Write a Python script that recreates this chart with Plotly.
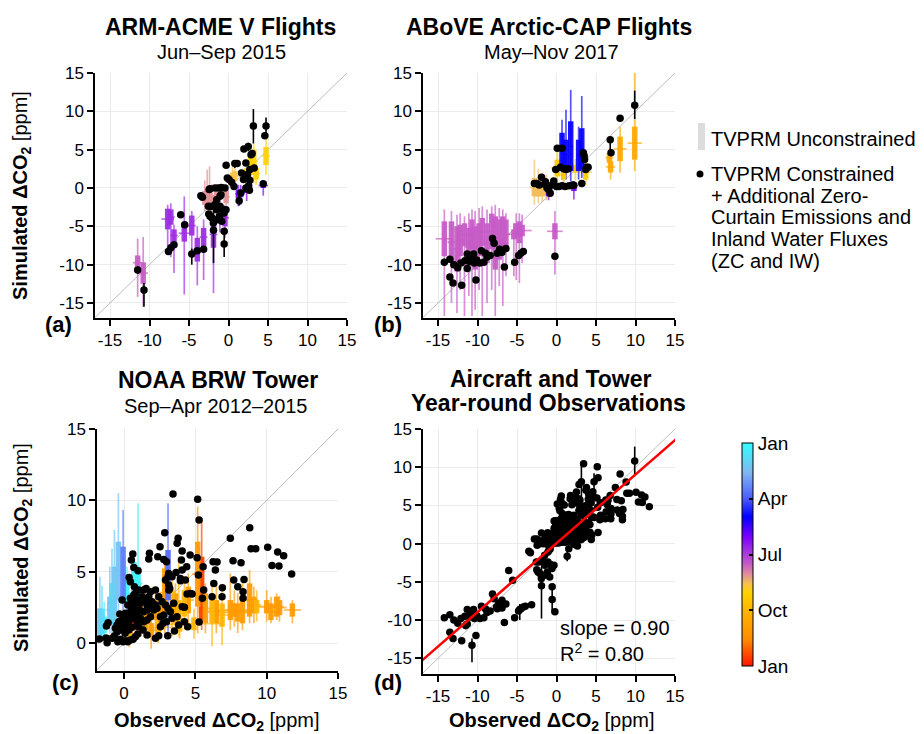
import plotly.graph_objects as go
from plotly.colors import sample_colorscale, unlabel_rgb

# ---------------- DATA ----------------
# Panel (a) ARM-ACME V : constrained (black) points
a_obs = [-11.5, -10.7, -7.6, -7.3, -6.9, -6.05, -5.55, -4.65, -3.95, -3.15, -3.5, -3.3, -2.45, -2.5, -2.25,
         -1.9, -2.35, -1.7, -1.3, -0.9, -0.45, -2.09, -1.92, -1.5, -1.16, -0.86, -0.57, -1.5, -1.71, -1.08,
         -0.78, -0.32, -2.55, -2.34, -1.08, -1.5, -0.95, -0.55, -0.55, -0.3, -0.15, 0.06, 0.4, 0.7, 0.8,
         1.1, 1.35, 1.55, 1.65, 1.9, 1.95, 2.2, 2.2, 2.4, 2.5, 2.65, 2.7, 2.85, 3.0, 3.15, 3.25, 4.4, 4.6,
         4.75, 2.3, 2.55, 2.7]
a_con = [-10.7, -13.3, -8.3, -7.8, -7.4, -3.5, -4.8, -8.6, -8.2, -8.0, -1.0, -1.2, -0.2, -3.4, -2.4,
         -5.5, -0.1, 0.0, 0.0, 0.05, 0.0, -3.9, -4.57, -4.13, -3.7, -4.35, -3.26, -2.83, -2.17, -2.39,
         -2.74, -2.83, -2.39, -3.7, -1.09, -1.52, -0.87, -5.65, -7.3, 2.95, 1.3, 1.1, 0.74, 0.2, 3.2,
         3.2, -1.65, -0.65, 1.95, 1.1, 5.1, 3.25, 0.0, 1.75, 5.4, -0.3, 2.4, 4.35, 4.5, 8.1, 2.6, 0.55, 6.8,
         8.1, -0.1, 0.3, 1.0]
a_err_x = [-11.5, -10.7, -4.65, -1.9, -0.55, 1.35, 3.15, 4.75, 2.5, 0.8]
a_err_lo = [-11.2, -15.5, -10.0, -9.8, -9.0, -2.3, 5.8, 6.9, 4.8, 2.6]
a_err_hi = [-10.2, -12.4, -7.9, -3.0, -5.7, -1.0, 10.3, 9.2, 5.9, 3.6]
# Panel (a) unconstrained bars
a_unc_x = [-11.5, -10.8, -7.7, -7.3, -6.9, -5.6, -4.65, -3.95, -3.15, -3.0, -2.7, -2.4, -2.1, -1.9, -1.5,
           -1.1, -0.45, -0.3, 0.5, 0.8, 1.25, 1.55, 2.3, 2.3, 2.8, 3.2, 3.5, 4.4, 4.75]
a_box_lo = [-10.7, -12.5, -5.4, -4.8, -7.0, -7.0, -6.2, -9.6, -7.6, -2.2, -2.0, -2.5, -2.8, -7.8, -2.6,
            -4.6, -5.0, -2.0, 0.9, 0.9, -1.3, -1.2, -0.65, 0.9, 1.7, 2.0, 1.1, 0.0, 3.0]
a_box_hi = [-8.8, -9.7, -2.7, -2.8, -5.4, -4.8, -3.6, -6.5, -5.2, -0.4, -0.2, -0.3, -0.9, -4.3, -0.5,
            -2.8, -2.8, -0.3, 2.0, 2.2, -0.2, -0.3, 0.0, 2.6, 4.1, 5.0, 2.6, 0.65, 5.35]
a_whi_lo = [-14.2, -15.5, -7.6, -9.0, -11.1, -13.9, -9.1, -12.7, -12.0, -3.0, -2.8, -3.5, -3.5, -13.7, -3.2,
            -5.8, -6.5, -2.6, 0.3, 0.3, -2.4, -2.2, -1.7, 0.2, 0.4, 0.6, 0.4, -1.0, 1.7]
a_whi_hi = [-6.6, -6.4, -2.2, -2.0, -4.8, -1.1, -3.0, -5.0, -4.1, 1.0, 2.4, 2.8, 0.5, -2.8, 0.3,
            -1.5, -2.3, 0.5, 2.8, 2.8, 0.4, 0.4, 0.6, 3.2, 5.2, 5.7, 3.2, 1.0, 6.5]
a_obs_err = [0.6, 0.6, 0.8, 0.5, 0.5, 0.7, 0.5, 0.5, 0.5, 0.5, 0.6, 0.5, 0.5, 0.5, 0.5,
             0.5, 0.5, 0.5, 0.5, 0.5, 0.4, 0.5, 0.4, 0.5, 0.5, 0.5, 0.5, 0.6, 0.5]
a_month = [6.5, 6.5, 5.7, 5.7, 5.7, 5.7, 5.7, 5.7, 5.7, 7.1, 7.1, 7.1, 7.1, 5.7, 7.1,
           5.7, 5.7, 7.1, 7.6, 7.6, 5.0, 5.0, 5.0, 8.0, 8.0, 8.0, 8.0, 5.0, 8.0]

# Panel (b) ABoVE : constrained (black) points
b_obs = [-14.2, -13.5, -13.5, -13.1, -13.0, -12.5, -12.1, -12.0, -11.6, -11.3, -11.3, -11.0, -10.9, -10.6,
         -10.5, -10.4, -10.2, -10.1, -9.7, -9.5, -9.2, -9.0, -8.8, -8.4, -8.1, -7.9, -7.5, -7.2, -6.9, -6.6,
         -6.4, -5.3, -4.8, -4.5, -4.2, -0.2,
         -2.8, -2.5, -2.2, -1.9, -1.5, -1.4, -1.2, -1.0, -0.8, -0.55, -0.35, -0.1, 0.1, 0.7, 0.5, 0.9,
         1.2, 1.5, 0.0, 0.3, 0.7, 1.1, 1.6, 2.0, 2.2, 3.2, 3.4, 3.5, 3.55, 3.7, 3.8, 4.0, 6.8, 6.9, 8.05, 9.9]
b_con = [-9.7, -11.6, -9.3, -12.4, -10.0, -10.4, -9.8, -12.7, -9.5, -8.6, -10.5, -9.6, -9.3, -9.1,
         -8.6, -9.8, -12.0, -9.4, -9.8, -8.2, -9.7, -8.5, -9.0, -8.8, -6.6, -7.2, -8.5, -8.0, -8.4, -10.3,
         -7.9, -9.7, -8.8, -8.5, -8.3, -8.9,
         0.6, 0.6, 0.4, 1.4, 0.5, 0.8, 0.0, -0.2, -0.7, 0.4, 0.9, 2.4, 5.2, 5.2, 2.7, 2.5,
         2.4, 2.5, 0.2, 0.2, 0.3, 0.2, 0.3, 0.4, 0.35, 0.6, 4.6, 4.2, 3.7, 2.4, 2.7, 2.7, 6.3, 4.6, 9.1, 10.8]
b_err_x = [9.9, 6.8, 3.4]
b_err_lo = [9.0, 4.6, 3.2]
b_err_hi = [12.7, 6.3, 5.0]
# Panel (b) unconstrained bars
b_unc_x = [-14.2, -13.3, -12.6, -12.2, -11.65, -11.1, -10.7, -10.3, -9.8, -9.4, -8.8, -8.2, -7.75, -7.25,
           -6.8, -6.4, -5.4, -5.1, -4.7, -4.35, -0.2,
           -2.8, -2.3, -1.8, -1.3, -1.0, 2.2, 0.1, 0.9, 2.4, 3.7, 0.7, 1.2, 1.8, 2.8, 3.2,
           6.85, 6.7, 8.05, 9.9]
b_box_lo = [-8.9, -9.8, -10.9, -8.9, -7.6, -10.2, -8.0, -10.65, -8.9, -7.6, -9.8, -8.0, -10.65, -9.35,
            -7.6, -8.0, -6.7, -6.5, -7.2, -6.3, -6.7,
            -1.1, -1.1, -1.1, -0.9, -1.1, -0.4, 1.5, 1.1, 2.0, 1.1, 2.8, 2.4, 2.2, 2.2, 2.4,
            2.0, 3.3, 3.5, 3.7]
b_box_hi = [-4.35, -4.35, -5.0, -4.8, -4.6, -5.2, -4.1, -5.0, -4.6, -3.9, -4.6, -3.35, -3.7, -4.1,
            -3.7, -4.1, -5.4, -4.6, -4.35, -4.8, -4.6,
            1.3, 1.0, 0.8, 0.6, 0.2, 0.4, 3.7, 2.4, 3.0, 3.0, 7.2, 6.3, 8.7, 6.3, 7.8,
            3.5, 4.6, 6.7, 8.0]
b_whi_lo = [-16.7, -15.0, -16.3, -13.3, -16.7, -14.1, -16.7, -15.9, -13.3, -16.7, -15.0, -13.3, -16.7, -12.8,
            -15.4, -11.5, -11.5, -12.0, -12.4, -9.8, -11.3,
            -2.2, -2.0, -1.8, -1.6, -1.6, -1.5, 0.2, 0.3, 1.0, 0.4, 1.1, 1.1, 0.9, 1.1, 1.3,
            1.1, 2.5, 2.0, 2.2]
b_whi_hi = [-2.8, -3.0, -3.5, -3.3, -3.7, -3.3, -2.8, -3.0, -2.6, -2.4, -2.8, -2.4, -2.2, -2.6,
            -2.8, -3.3, -4.6, -3.3, -3.3, -3.5, -3.0,
            3.7, 2.5, 2.0, 1.7, 0.6, 0.9, 4.8, 3.2, 3.8, 4.1, 8.9, 10.2, 12.8, 8.0, 12.0,
            4.3, 5.0, 8.0, 15.0]
b_obs_err = [1.1, 0.5, 0.5, 0.5, 0.5, 0.5, 0.5, 0.5, 0.5, 0.5, 0.5, 0.5, 0.5, 0.5,
             0.5, 0.5, 0.6, 0.5, 0.5, 1.2, 1.0,
             0.6, 0.5, 0.5, 0.5, 0.4, 0.4, 0.8, 0.5, 0.8, 0.8, 0.3, 0.3, 0.3, 0.3, 0.3,
             0.6, 0.5, 0.8, 0.9]
b_month = [6.5, 6.5, 6.5, 6.5, 6.5, 6.5, 6.5, 6.5, 6.5, 6.5, 6.5, 6.5, 6.5, 6.5,
           6.5, 6.5, 6.5, 6.5, 6.5, 6.5, 6.5,
           7.5, 7.5, 7.5, 7.5, 5.0, 5.0, 8.3, 8.3, 8.3, 8.3, 4.0, 4.0, 4.0, 4.0, 4.0,
           9.5, 9.5, 9.5, 9.5]

# Panel (c) NOAA BRW tower : constrained (black) points
c_obs = [-1.73, -1.24, -1.12, -1.19, -0.84, -0.68, -0.49, -0.37, -0.30, -0.14,
         -0.44, -0.26, -0.07, 0.09, 0.26, 0.44, 0.63, 0.79, 0.96,
         -0.21, -0.02, 0.16, 0.35, 0.54, 0.72, 0.91,
         -0.26, -0.07, 0.12, 0.30, 0.49, 0.68, 0.86, 1.05,
         0.07, 0.33, 0.56, -0.49, -0.61,
         0.35, 0.44, 0.72, 0.68, 0.51, 1.03, 1.38, 1.85, 1.14, 1.61, 2.08, 2.31, 2.55, 2.78,
         1.26, 1.50, 1.73, 1.96, 2.20, 2.43, 2.66, 2.90,
         3.08, 3.36, 3.71, 4.07, 4.23, 4.42, 4.65, 4.77,
         3.83, 4.23, 4.46, 3.53, 3.06, 2.20, 1.61, 1.33, 1.03,
         2.55, 2.73, 2.97, 3.25, 3.48, 3.13, 3.36, 3.13, 2.90, 3.13,
         1.85, 1.61, 1.38, 1.14, 0.91, 1.10, 1.38, 1.61, 1.85,
         0.09, 0.26, 0.44, 0.63, 0.79, 2.20,
         3.95, 4.07, 4.30, 1.54, 5.26, 2.43, -1.26,
         3.43, 5.16, 5.26, 2.85, 2.52, 3.79, 3.72, 1.78, 1.73, 0.61, 0.51, 0.68, 0.98,
         2.36, 2.78, 2.97, 4.07, 4.02, 4.63, 4.39, 5.12, 5.54, 3.95, 3.64, 3.08, 3.20,
         5.21, 5.58, 5.49, 6.24, 6.52, 6.40, 6.29, 6.17, 6.87, 6.89, 7.45, 7.64, 8.20,
         7.69, 7.97, 8.41, 8.34, 8.34, 8.81, 8.90, 9.23, 10.07, 10.77, 10.37, 10.86, 11.19, 11.75]
c_con = [0.28, 1.19, 1.43, 0.02, 0.33, 0.49, 0.79, 1.50, 2.03, 3.01,
         0.09, 0.26, 0.09, 0.16, 0.09, 0.21, 0.26, 0.44, 0.63,
         0.91, 1.14, 1.38, 1.57, 1.73, 1.89, 2.08,
         1.50, 1.73, 1.89, 2.08, 2.27, 2.50, 2.78, 3.01,
         0.68, 0.91, 1.10, 1.26, 1.03,
         4.60, 4.30, 3.95, 3.36, 2.78, 3.71, 3.71, 3.60, 2.78, 2.66, 2.31, 2.43, 1.85, 1.96,
         3.25, 3.01, 3.25, 2.90, 2.66, 3.25, 2.90, 2.66,
         2.43, 1.73, 1.85, 2.55, 2.50, 3.43, 3.48, 3.43,
         1.26, 1.50, 1.14, 0.84, 0.51, 0.33, 0.56, 0.91, 1.14,
         1.14, 1.38, 1.50, 2.20, 2.78, 3.71, 4.65, 4.88, 4.42, 4.07,
         1.85, 1.61, 1.50, 1.73, 1.50, 2.31, 2.20, 2.31, 2.43,
         2.08, 2.66, 3.13, 3.01, 3.48, 3.71,
         4.53, 5.12, 4.42, 3.83, 1.47, 0.51, 0.35,
         10.44, 10.07, 8.62, 7.73, 6.75, 7.34, 6.99, 6.29, 5.89, 6.24, 5.82, 5.30, 5.07,
         6.05, 5.86, 5.70, 6.45, 5.82, 6.17, 5.35, 5.98, 5.35, 4.37, 4.95, 4.65, 3.83,
         4.77, 3.71, 3.13, 5.70, 5.68, 5.12, 4.18, 3.25, 3.25, 3.88, 7.34, 5.77, 5.63,
         4.42, 3.95, 4.46, 3.60, 3.13, 8.08, 6.61, 6.61, 6.71, 6.38, 5.44, 5.40, 6.12, 4.84]
# Panel (c) unconstrained bars
c_unc_x = [-1.7, -1.4, -1.0, -0.68, -0.4, -0.07, 0.2, 0.68, 0.98, 0.56, 0.86, 1.15, 1.5, 1.85, 2.2, 2.55,
           2.85, 3.08, 3.36, 3.6, 3.83, 4.23, 4.5, 5.16, 5.44, 5.7, 6.17, 6.47, 6.87, 7.45, 7.73, 7.97,
           8.3, 8.8, 9.1, 9.3, 10.0, 10.3, 10.7, 10.9, 11.8, 0.35, 1.9, 2.4, 3.9, 4.9, -1.55, -0.85]
c_box_lo = [0.44, 0.68, 1.38, 0.91, 3.01, 2.78, 2.55, 3.48, 3.01, 0.91, 0.91, 1.38, 0.91, 1.85, 1.61, 0.91,
            1.85, 3.01, 1.61, 1.38, 1.14, 1.85, 2.08, 2.55, 1.61, 1.38, 1.38, 1.38, 1.14, 1.61, 1.85, 1.50,
            1.38, 1.85, 2.08, 2.08, 2.08, 1.61, 1.85, 1.96, 1.85, 0.3, 0.4, 0.6, 0.8, 0.9, 0.6, 1.4]
c_box_hi = [2.43, 1.85, 3.25, 5.35, 7.10, 6.75, 4.42, 5.70, 5.35, 2.78, 1.85, 3.25, 2.55, 3.01, 3.01, 2.66,
            5.23, 6.52, 3.71, 3.48, 3.01, 3.71, 3.95, 7.10, 6.05, 3.48, 3.01, 3.01, 2.78, 3.01, 2.78, 2.78,
            3.01, 4.18, 3.25, 3.01, 3.01, 2.78, 3.25, 3.01, 2.78, 1.5, 1.4, 1.6, 1.8, 1.8, 2.4, 4.2]
c_whi_lo = [0.33, 0.21, 0.68, 0.44, 0.44, 1.38, 1.38, 2.55, 1.38, 0.44, 0.44, 0.44, 0.44, 0.44, 0.68, 0.44,
            0.68, 0.44, 0.44, 0.68, 0.44, 0.91, 0.91, 0.68, 0.91, 0.68, -0.25, 0.68, -0.14, 0.91, 1.14, 0.7,
            0.91, 1.38, 1.38, 1.5, 1.50, 1.38, 1.61, 1.5, 1.38, -0.3, -0.4, 0.0, 0.3, 0.3, 0.3, 0.5]
c_whi_hi = [4.65, 2.9, 5.35, 7.92, 10.5, 9.32, 5.35, 6.05, 9.79, 3.71, 2.5, 4.18, 3.71, 3.95, 3.71, 3.48,
            5.82, 9.79, 4.42, 4.18, 6.05, 4.42, 4.88, 9.56, 8.62, 4.18, 4.18, 4.18, 3.71, 4.88, 3.71, 3.5,
            4.18, 5.12, 3.95, 3.7, 3.71, 3.25, 3.48, 3.3, 3.01, 2.5, 2.2, 2.4, 2.6, 2.4, 4.0, 6.6]
c_obs_err = [0.3, 0.3, 0.3, 0.3, 0.3, 0.3, 0.3, 0.3, 0.3, 0.3, 0.3, 0.4, 0.4, 0.4, 0.4, 0.4,
             0.4, 0.3, 0.4, 0.4, 0.4, 0.4, 0.4, 0.4, 0.3, 0.5, 1.0, 0.6, 0.6, 1.5, 0.6, 1.0,
             0.6, 0.6, 0.5, 0.5, 0.5, 0.5, 0.5, 0.5, 0.6, 0.4, 0.5, 1.0, 1.5, 2.0, 0.3, 0.3]
c_month = [1.3, 0.3, 1.3, 1.3, 1.3, 2.5, 0.3, 0.3, 0.3, 11.5, 11.5, 10, 10, 9, 10, 10,
           10, 2.8, 9, 10, 9, 9, 10, 10, 11.5, 10, 9, 10, 9, 10, 10, 10,
           10, 10, 10, 9, 10, 10, 10, 10, 10, 9, 10, 9, 9, 9, 0.8, 1.0]

# Panel (d) regression statistics
fit_slope = 0.90
fit_intercept = 0.05
fit_r2 = 0.80

# ---------------- STYLE / LAYOUT HELPERS ----------------
FONT = "Liberation Sans, Arial, Helvetica, sans-serif"
W, H = 924, 734


def fx(p):
    return p / W


def fy(p):
    return 1 - p / H


CSCALE = [[0.00, "rgb(255,21,0)"], [0.12, "rgb(255,140,0)"], [0.25, "rgb(255,180,0)"],
          [0.33, "rgb(255,210,0)"], [0.37, "rgb(245,192,80)"], [0.41, "rgb(224,144,154)"],
          [0.46, "rgb(196,88,200)"], [0.52, "rgb(160,48,224)"], [0.58, "rgb(122,0,255)"],
          [0.67, "rgb(0,0,255)"], [0.75, "rgb(74,92,255)"], [0.87, "rgb(128,184,240)"],
          [1.00, "rgb(48,255,255)"]]


def month_color(m, alpha):
    c = sample_colorscale(CSCALE, [1 - m / 12.0])[0]
    r, g, b = unlabel_rgb(c)
    return f"rgba({int(round(r))},{int(round(g))},{int(round(b))},{alpha})"


fig = go.Figure()


def add_bars(xs, blo, bhi, wlo, whi, xerr, months, xa, ya):
    groups = {}
    for i, m in enumerate(months):
        groups.setdefault(m, []).append(i)
    for m, idx in groups.items():
        lx, ly = [], []
        for i in idx:
            mid = (blo[i] + bhi[i]) / 2
            lx += [xs[i], xs[i], None, xs[i] - xerr[i], xs[i] + xerr[i], None]
            ly += [wlo[i], whi[i], None, mid, mid, None]
        fig.add_trace(go.Scatter(x=lx, y=ly, mode="lines", xaxis=xa, yaxis=ya, hoverinfo="skip",
                                 line=dict(color=month_color(m, 0.68), width=1.7)))
    for m, idx in groups.items():
        lx, ly = [], []
        for i in idx:
            lx += [xs[i], xs[i], None]
            ly += [blo[i], bhi[i], None]
        fig.add_trace(go.Scatter(x=lx, y=ly, mode="lines", xaxis=xa, yaxis=ya, hoverinfo="skip",
                                 line=dict(color=month_color(m, 0.92), width=5.5)))


def add_diag(xa, ya):
    fig.add_trace(go.Scatter(x=[-20, 20], y=[-20, 20], mode="lines", xaxis=xa, yaxis=ya,
                             hoverinfo="skip", line=dict(color="#BDBDBD", width=1)))


def add_errs(ex, elo, ehi, xa, ya):
    lx, ly = [], []
    for x, lo, hi in zip(ex, elo, ehi):
        lx += [x, x, None]
        ly += [lo, hi, None]
    fig.add_trace(go.Scatter(x=lx, y=ly, mode="lines", xaxis=xa, yaxis=ya, hoverinfo="skip",
                             line=dict(color="black", width=1.6)))


def add_dots(xs, ys, xa, ya):
    fig.add_trace(go.Scatter(x=xs, y=ys, mode="markers", xaxis=xa, yaxis=ya,
                             marker=dict(color="black", size=7.5, line=dict(width=0))))


# Panel a
add_diag("x", "y")
add_bars(a_unc_x, a_box_lo, a_box_hi, a_whi_lo, a_whi_hi, a_obs_err, a_month, "x", "y")
add_errs(a_err_x, a_err_lo, a_err_hi, "x", "y")
add_dots(a_obs, a_con, "x", "y")
# Panel b
add_diag("x2", "y2")
add_bars(b_unc_x, b_box_lo, b_box_hi, b_whi_lo, b_whi_hi, b_obs_err, b_month, "x2", "y2")
add_errs(b_err_x, b_err_lo, b_err_hi, "x2", "y2")
add_dots(b_obs, b_con, "x2", "y2")
# Panel c
add_diag("x3", "y3")
add_bars(c_unc_x, c_box_lo, c_box_hi, c_whi_lo, c_whi_hi, c_obs_err, c_month, "x3", "y3")
add_dots(c_obs, c_con, "x3", "y3")
# Panel d
add_diag("x4", "y4")
add_errs(a_err_x + b_err_x, a_err_lo + b_err_lo, a_err_hi + b_err_hi, "x4", "y4")
add_dots(a_obs + b_obs + c_obs, a_con + b_con + c_con, "x4", "y4")
fit_x = [-20, 20]
fig.add_trace(go.Scatter(x=fit_x, y=[fit_slope * v + fit_intercept for v in fit_x], mode="lines",
                         xaxis="x4", yaxis="y4", hoverinfo="skip", line=dict(color="#FF0000", width=2.5)))

# colour bar (month)
fig.add_trace(go.Scatter(
    x=[None, None], y=[None, None], mode="markers", xaxis="x4", yaxis="y4", hoverinfo="skip",
    marker=dict(color=[-12, 0], cmin=-12, cmax=0, colorscale=CSCALE, showscale=True,
                colorbar=dict(x=fx(742), xanchor="left", y=fy(554.5), yanchor="middle",
                              len=223, lenmode="pixels", thickness=11, thicknessmode="pixels",
                              xpad=0, ypad=0, outlinewidth=1, outlinecolor="black",
                              tickvals=[0, -3, -6, -9, -12], ticktext=["Jan", "Apr", "Jul", "Oct", "Jan"],
                              ticks="inside", ticklen=4, tickwidth=1.5, tickcolor="black",
                              tickfont=dict(size=19, family=FONT, color="black")))))


def axis(domain, rng, vals, anchor):
    return dict(domain=domain, range=rng, tickvals=vals, ticktext=[str(v) for v in vals],
                showline=True, linecolor="black", linewidth=1.5, ticks="outside", ticklen=6,
                tickwidth=1.5, tickcolor="black", showgrid=True, gridcolor="#EBEBEB", gridwidth=1,
                zeroline=False, tickfont=dict(size=17, color="black", family=FONT), anchor=anchor,
                automargin=False, fixedrange=True)


full = [-15, -10, -5, 0, 5, 10, 15]
pos = [0, 5, 10, 15]
fig.update_layout(
    width=W, height=H, margin=dict(l=0, r=0, t=0, b=0), showlegend=False,
    paper_bgcolor="white", plot_bgcolor="white", font=dict(family=FONT, color="black"),
    xaxis=axis([fx(95), fx(347)], [-16.9, 15], full, "y"),
    yaxis=axis([fy(318), fy(73)], [-16.96, 15], full, "x"),
    xaxis2=axis([fx(423), fx(675)], [-16.9, 15], full, "y2"),
    yaxis2=axis([fy(318), fy(73)], [-16.96, 15], full, "x2"),
    xaxis3=axis([fx(97), fx(338)], [-1.9, 15], pos, "y3"),
    yaxis3=axis([fy(671), fy(429)], [-1.96, 15], pos, "x3"),
    xaxis4=axis([fx(423), fx(675)], [-16.9, 15], full, "y4"),
    yaxis4=axis([fy(674), fy(429)], [-17.05, 15], full, "x4"),
)

ann = []


def text(x, y, s, size, xanchor="center", angle=0):
    ann.append(dict(x=fx(x), y=fy(y), xref="paper", yref="paper", text=s, showarrow=False,
                    xanchor=xanchor, yanchor="middle", textangle=angle,
                    font=dict(size=size, family=FONT, color="black")))


# titles
text(220, 27, "<b>ARM-ACME V Flights</b>", 23)
text(221, 52, "Jun–Sep 2015", 20)
text(549, 27, "<b>ABoVE Arctic-CAP Flights</b>", 23)
text(551, 52, "May–Nov 2017", 20)
text(218, 380, "<b>NOAA BRW Tower</b>", 23)
text(216, 406, "Sep–Apr 2012–2015", 20)
text(551, 379, "<b>Aircraft and Tower</b>", 23)
text(548, 403, "<b>Year-round Observations</b>", 23)
# axis titles
ylab = "<b>Simulated ΔCO<sub>2</sub></b> [ppm]"
xlab = "<b>Observed ΔCO<sub>2</sub></b> [ppm]"
text(22, 196, ylab, 20, angle=-90)
text(22, 548, ylab, 20, angle=-90)
text(217, 721, xlab, 20)
text(552, 721, xlab, 20)
# panel letters
text(58, 325, "<b>(a)</b>", 22)
text(388, 325, "<b>(b)</b>", 22)
text(65, 682, "<b>(c)</b>", 22)
text(388, 682, "<b>(d)</b>", 22)
# fit stats
text(558, 628, f"slope = {fit_slope:.2f}", 20, xanchor="left")
text(558, 652, f"R<sup>2</sup> = {fit_r2:.2f}", 20, xanchor="left")
# legend
text(709, 139, "TVPRM Unconstrained", 20, xanchor="left")
leg_lines = ["TVPRM Constrained", "+ Additional Zero-", "Curtain Emissions and",
             "Inland Water Fluxes", "(ZC and IW)"]
for k, line in enumerate(leg_lines):
    text(709, 174 + 21.7 * k, line, 20, xanchor="left")

fig.update_layout(annotations=ann, shapes=[
    dict(type="rect", xref="paper", yref="paper", x0=fx(698), x1=fx(705), y0=fy(150), y1=fy(123),
         fillcolor="#DCDCDC", line=dict(width=0)),
    dict(type="circle", xref="paper", yref="paper", x0=fx(696.5), x1=fx(703.5), y0=fy(177.5), y1=fy(170.5),
         fillcolor="black", line=dict(width=0)),
])

fig.write_html("out.html", config={"displayModeBar": False},
               post_script="document.body.style.margin='0px';")
